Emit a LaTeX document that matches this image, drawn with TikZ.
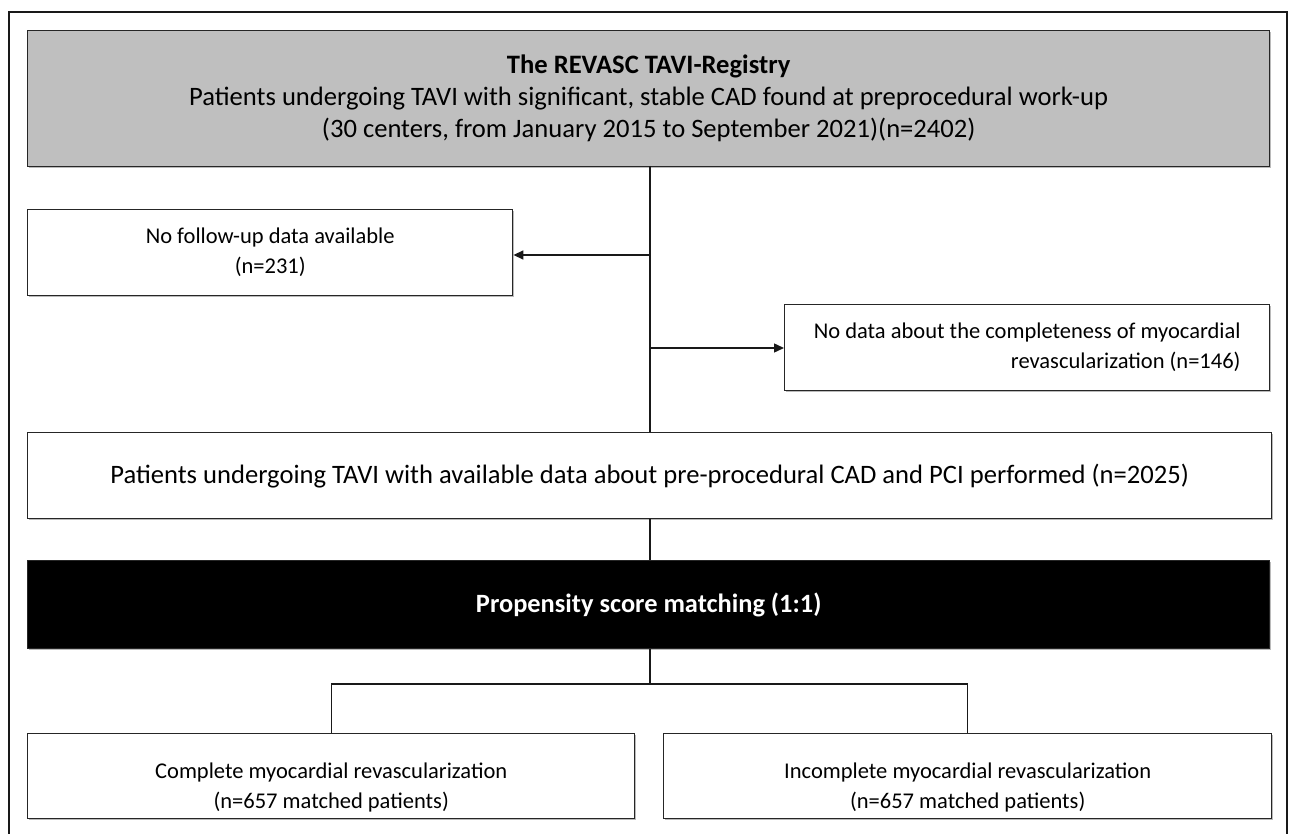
\documentclass[tikz,border=0pt]{standalone}
\usepackage{fontspec}
\setmainfont{Carlito}
\usetikzlibrary{arrows.meta,shadows}
\begin{document}
\begin{tikzpicture}[x=1pt,y=-1pt,
  box/.style={draw=black!85,line width=1.4pt,anchor=north west,inner sep=0pt,align=center,
    drop shadow={shadow xshift=1.6pt,shadow yshift=-1.6pt,fill=black!45,opacity=0.6}},
  conn/.style={line width=1.4pt,draw=black!90},
  arr/.style={conn,-{Triangle[length=10pt,width=9pt]}},
  bigtxt/.style={font=\fontsize{26.6}{32}\selectfont},
  smalltxt/.style={font=\fontsize{22.5}{30}\selectfont,align=center}]
\useasboundingbox (0,0) rectangle (1291,834);
\draw[line width=2.2pt,draw=black!90] (9,834) -- (9,12) -- (1287,12) -- (1287,834);
% boxes
\node[box,fill=black!25,minimum width=1242pt,minimum height=136pt,bigtxt] (reg) at (27,30)
  {\textbf{The REVASC TAVI-Registry}\\Patients undergoing TAVI with significant, stable CAD found at preprocedural work-up\\(30 centers, from January 2015 to September 2021)(n=2402)};
\node[box,fill=white,minimum width=485pt,minimum height=86pt,smalltxt] (fu) at (27,209)
  {No follow-up data available\\(n=231)};
\node[box,fill=white,minimum width=485pt,minimum height=86pt,smalltxt,align=right] (nd) at (784,304)
  {No data about the completeness of myocardial\\revascularization (n=146)};
\node[box,fill=white,minimum width=1244pt,minimum height=86pt,bigtxt] (pts) at (27,432)
  {Patients undergoing TAVI with available data about pre-procedural CAD and PCI performed (n=2025)};
\node[box,fill=black,drop shadow={opacity=0},minimum width=1242pt,minimum height=88pt,text=white,font=\fontsize{26.4}{30}\selectfont\bfseries] (psm) at (27,560)
  {Propensity score matching (1:1)};
\node[box,fill=white,minimum width=607pt,minimum height=85pt] (cmp) at (27,733) {};
\node[box,fill=white,minimum width=608pt,minimum height=85pt] (inc) at (663,733) {};
\node[smalltxt] (cmpt) at ([shift={(0,11)}]cmp.center)
  {Complete myocardial revascularization\\(n=657 matched patients)};
\node[smalltxt] (inct) at ([shift={(0,11)}]inc.center)
  {Incomplete myocardial revascularization\\(n=657 matched patients)};
% connectors
\coordinate (a1) at (650,255);
\coordinate (a2) at (650,348);
\coordinate (sp) at (650,684);
\draw[conn] (650,166) -- (650,432);
\draw[arr] (a1) -- (fu.east |- a1);
\draw[arr] (a2) -- (nd.west |- a2);
\draw[conn] (pts.south -| 650,0) -- (psm.north -| 650,0);
\draw[conn] (psm.south -| sp) -- (sp);
\draw[conn] (sp) -- (cmp.north |- sp) -- (cmp.north);
\draw[conn] (sp) -- (inc.north |- sp) -- (inc.north);
\end{tikzpicture}
\end{document}
